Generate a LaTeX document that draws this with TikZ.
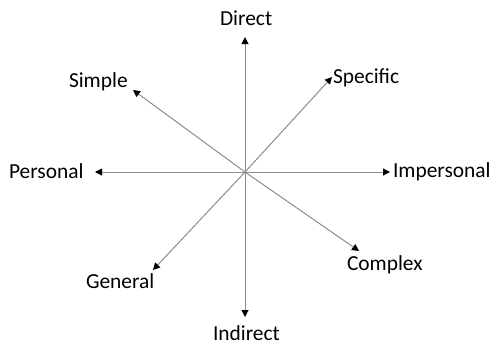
\documentclass[tikz,border=0pt]{standalone}
\usepackage{fontspec}
\setmainfont{Carlito}
\usetikzlibrary{arrows.meta}
\begin{document}
\begin{tikzpicture}[x=1bp,y=-1bp,
  lbl/.style={inner sep=0pt,outer sep=0pt,font=\fontsize{21.5}{24}\selectfont,text=black},
  axis/.style={draw=black!45,line width=1bp,-{Triangle[length=7bp,width=7bp,fill=black,color=black]}}]
\useasboundingbox (0,0) rectangle (495,346);
\coordinate (O) at (245,172);
\coordinate (tD) at (245,37);
\coordinate (tI) at (245,317);
\coordinate (tP) at (95,172);
\coordinate (tM) at (390,172);
\coordinate (tS) at (133,90);
\coordinate (tF) at (332,77);
\coordinate (tG) at (153,270);
\coordinate (tC) at (359,251);
\node[lbl,anchor=base west] (D) at (220,25) {Direct};
\node[lbl,anchor=base west] (I) at (213,340) {Indirect};
\node[lbl,anchor=base west] (P) at (9,178) {Personal};
\node[lbl,anchor=base west] (M) at (393,177) {Impersonal};
\node[lbl,anchor=base west] (S) at (69,87) {Simple};
\node[lbl,anchor=base west] (F) at (333,83) {Specific};
\node[lbl,anchor=base west] (G) at (86,288) {General};
\node[lbl,anchor=base west] (C) at (347,270) {Complex};
\draw[axis] (O) -- (tD);
\draw[axis] (O) -- (tI);
\draw[axis] (O) -- (tP);
\draw[axis] (O) -- (tM);
\draw[axis] (O) -- (tS);
\draw[axis] (O) -- (tF);
\draw[axis] (O) -- (tG);
\draw[axis] (O) -- (tC);
\end{tikzpicture}
\end{document}
